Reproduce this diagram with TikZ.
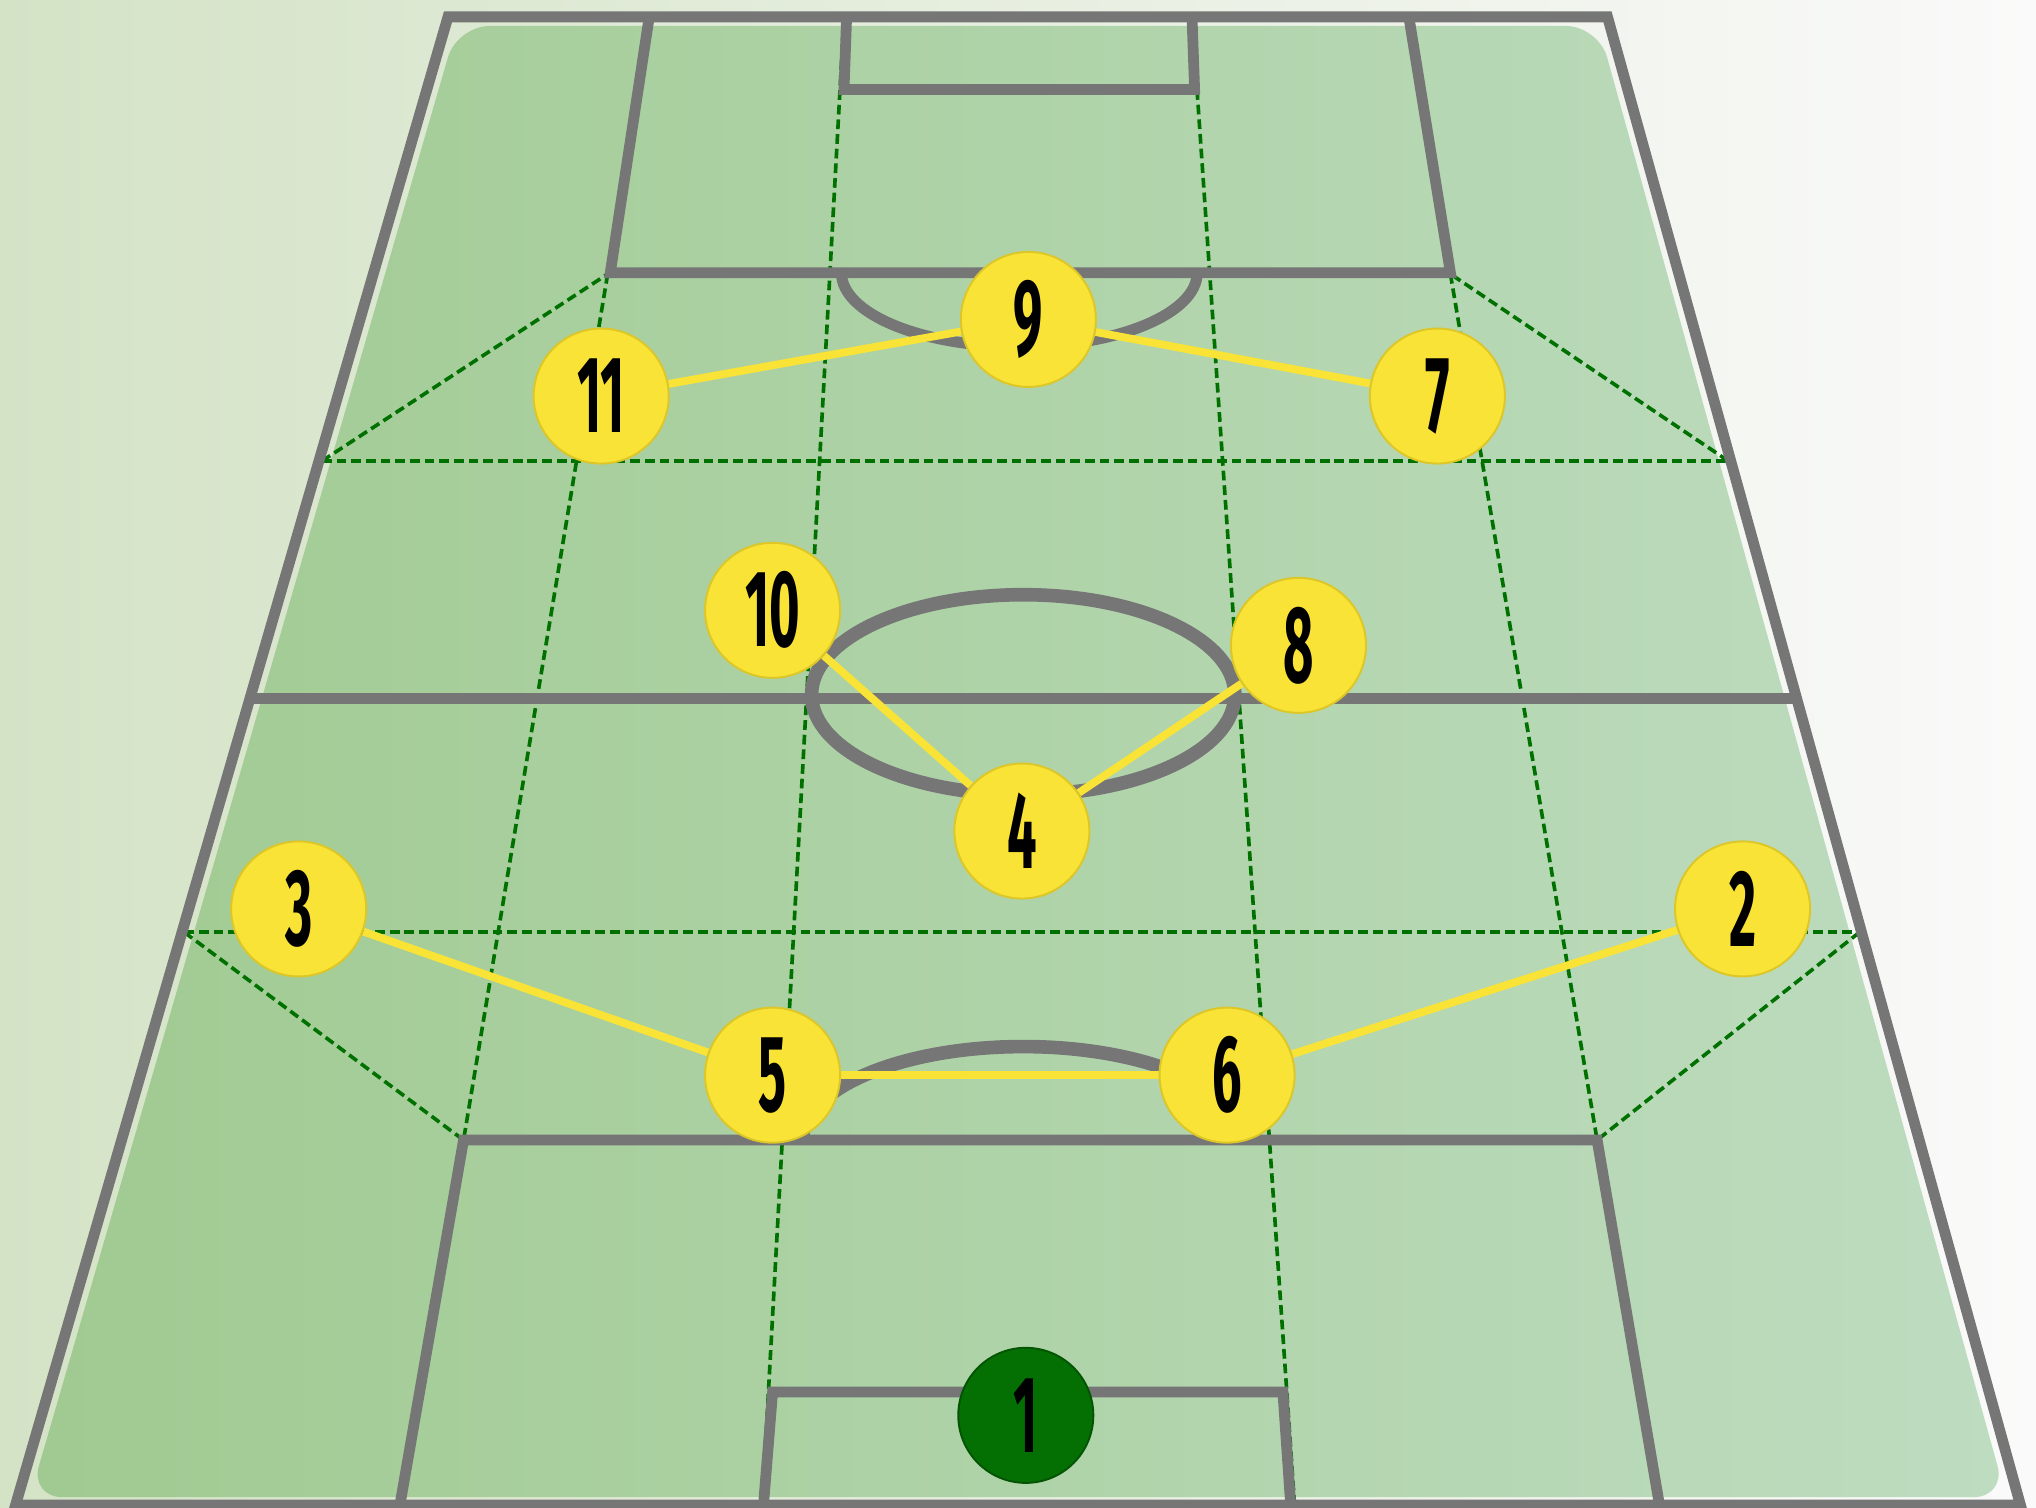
\documentclass[tikz,border=0pt]{standalone}
\usepackage{fontspec}
\newfontfamily\numfont[FakeStretch=0.48]{Fira Sans}
\definecolor{pline}{RGB}{118,118,118}
\definecolor{zone}{RGB}{0,112,0}
\definecolor{pyel}{RGB}{249,227,54}
\definecolor{pyeldark}{RGB}{220,198,40}
\definecolor{gk}{RGB}{4,112,4}
\definecolor{bgL}{RGB}{212,227,198}
\definecolor{bgR}{RGB}{250,250,250}
\definecolor{fL}{RGB}{160,202,145}
\definecolor{fR}{RGB}{190,220,192}
\pgfdeclarelayer{background}
\pgfdeclarelayer{mid}
\pgfsetlayers{background,mid,main}
\begin{document}
\begin{tikzpicture}[x=1pt,y=-1pt,
  pitchline/.style={draw=pline,line width=8.3pt,line join=miter},
  arcline/.style={draw=pline,line width=10.5pt},
  zoneline/.style={draw=zone,line width=2.8pt,dash pattern=on 7.5pt off 3.8pt},
  link/.style={draw=pyel,line width=6pt},
  player/.style={circle,minimum size=104pt,inner sep=0pt,fill=pyel,draw=pyeldark,line width=1.5pt,
    font=\numfont\bfseries\fontsize{84}{84}\selectfont},
  keeper/.style={player,fill=gk,draw=gk!75!black}]
\useasboundingbox (0,0) rectangle (1568,1161);
\begin{pgfonlayer}{background}
\shade[left color=bgL,right color=bgR] (0,0) rectangle (1568,1161);
\shade[left color=fL,right color=fR,rounded corners=25pt]
  (352,20) -- (1231,20) -- (1545,1153) -- (23,1153) -- cycle;
% zone lines
\draw[zoneline] (248,355) -- (1331,355);
\draw[zoneline] (142,718) -- (1432,718);
\draw[zoneline] (248,355) -- (468,211);
\draw[zoneline] (1331,355) -- (1117,211);
\draw[zoneline] (142,718) -- (357,878);
\draw[zoneline] (1432,718) -- (1230,878);
\draw[zoneline] (468,211) -- (357,878);
\draw[zoneline] (1117,211) -- (1230,878);
\draw[zoneline] (650,13) -- (587,1159);
\draw[zoneline] (918,13) -- (997,1159);
% pitch lines
\draw[pitchline] (345,13) -- (1238,13) -- (1556,1159) -- (12,1159) -- cycle;
\draw[pitchline] (500,13) -- (470,210) -- (1117,210) -- (1085,13);
\draw[pitchline] (652,13) -- (650,69) -- (920,69) -- (918,13);
\draw[arcline,line width=8.5pt] (648,210) arc[start angle=180,end angle=0,x radius=137,y radius=57];
\draw[pitchline] (192,538) -- (1384,538);
\draw[arcline] (788,535) ellipse[x radius=163,y radius=77];
\draw[pitchline] (308,1159) -- (357,878) -- (1230,878) -- (1278,1159);
\draw[arcline] (618,878) arc[start angle=180,end angle=360,x radius=170,y radius=72];
\draw[pitchline] (588,1159) -- (595,1072) -- (988,1072) -- (994,1159);
\end{pgfonlayer}
% players
\node[player] (p9) at (792,246) {9};
\node[player] (p11) at (463,305) {11};
\node[player] (p7) at (1107,305) {7};
\node[player] (p10) at (595,470) {10};
\node[player] (p8) at (1000,497) {8};
\node[player] (p4) at (787,640) {4};
\node[player] (p3) at (230,700) {3};
\node[player] (p2) at (1342,700) {2};
\node[player] (p5) at (595,828) {5};
\node[player] (p6) at (945,828) {6};
\node[keeper] (p1) at (790,1090) {1};
\begin{pgfonlayer}{mid}
\draw[link] (p11) -- (p9);
\draw[link] (p9) -- (p7);
\draw[link] (p10) -- (p4);
\draw[link] (p4) -- (p8);
\draw[link] (p3) -- (p5);
\draw[link] (p5) -- (p6);
\draw[link] (p6) -- (p2);
\end{pgfonlayer}
\end{tikzpicture}
\end{document}
